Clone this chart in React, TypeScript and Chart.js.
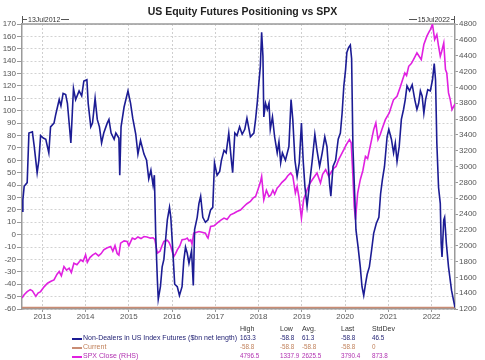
import React, { useEffect, useRef } from "react";
import { Chart, registerables } from "chart.js";

Chart.register(...registerables);

// ---- data (decimal-year dates) ----
const positioningDates = [
  2012.53, 2012.55, 2012.58, 2012.65, 2012.69, 2012.77, 2012.81, 2012.88, 2012.92, 2012.96,
  2013.02, 2013.08, 2013.15, 2013.19, 2013.27, 2013.31, 2013.39, 2013.43, 2013.48, 2013.54,
  2013.58, 2013.66, 2013.72, 2013.77, 2013.85, 2013.91, 2013.96, 2014.03, 2014.06, 2014.12,
  2014.16, 2014.22, 2014.27, 2014.32, 2014.37, 2014.42, 2014.5, 2014.54, 2014.59, 2014.66,
  2014.7, 2014.77, 2014.79, 2014.82, 2014.89, 2014.98, 2015.04, 2015.09, 2015.16, 2015.21,
  2015.27, 2015.35, 2015.41, 2015.46, 2015.51, 2015.56, 2015.59, 2015.62, 2015.66, 2015.68,
  2015.73, 2015.77, 2015.81, 2015.89, 2015.94, 2015.97, 2016.02, 2016.06, 2016.12, 2016.17,
  2016.23, 2016.27, 2016.31, 2016.35, 2016.39, 2016.45, 2016.49, 2016.52, 2016.58, 2016.62,
  2016.66, 2016.71, 2016.77, 2016.83, 2016.89, 2016.94, 2016.98, 2017.04, 2017.1, 2017.14,
  2017.2, 2017.25, 2017.31, 2017.37, 2017.4, 2017.45, 2017.5, 2017.56, 2017.62, 2017.68,
  2017.73, 2017.81, 2017.89, 2017.93, 2017.97, 2018.0, 2018.04, 2018.07, 2018.1, 2018.12,
  2018.16, 2018.2, 2018.24, 2018.27, 2018.32, 2018.37, 2018.43, 2018.47, 2018.51, 2018.55,
  2018.62, 2018.7, 2018.75, 2018.79, 2018.84, 2018.89, 2018.94, 2018.99, 2019.03, 2019.07,
  2019.12, 2019.17, 2019.24, 2019.3, 2019.35, 2019.41, 2019.47, 2019.53, 2019.58, 2019.64,
  2019.67, 2019.72, 2019.78, 2019.84, 2019.89, 2019.93, 2019.97, 2020.01, 2020.04, 2020.08,
  2020.12, 2020.15, 2020.18, 2020.22, 2020.25, 2020.3, 2020.35, 2020.39, 2020.43, 2020.47,
  2020.51, 2020.56, 2020.61, 2020.66, 2020.72, 2020.78, 2020.82, 2020.86, 2020.91, 2020.97,
  2021.01, 2021.07, 2021.12, 2021.16, 2021.2, 2021.25, 2021.3, 2021.35, 2021.39, 2021.43,
  2021.49, 2021.55, 2021.61, 2021.66, 2021.7, 2021.74, 2021.78, 2021.82, 2021.86, 2021.91,
  2021.97, 2022.02, 2022.06, 2022.09, 2022.12, 2022.16, 2022.2, 2022.22, 2022.24, 2022.28,
  2022.3, 2022.34, 2022.39, 2022.46, 2022.54,
];
const positioningValues = [
  19, 28, 39, 42, 82, 83, 72, 50, 60, 80,
  78, 77, 66, 87, 90, 97, 109, 104, 114, 113,
  106, 74, 118, 109, 116, 112, 124, 125, 106, 87,
  90, 110, 93, 87, 74, 82, 90, 93, 82, 77,
  82, 78, 48, 87, 103, 116, 106, 94, 81, 65,
  76, 65, 60, 45, 52, 40, 48, 1, -37, -52,
  -42, -26, -20, 12, 22, 14, -15, -40, -42, -49,
  -42, -21, -10, -15, -23, -13, -41, 4, 14, 25,
  31, 14, 10, 12, 20, 22, 58, 48, 51, 60,
  68, 66, 82, 60, 50, 82, 80, 87, 81, 85,
  94, 79, 82, 93, 107, 120, 136, 163.3, 144, 95,
  106, 101, 106, 85, 95, 79, 66, 75, 58, 66,
  60, 71, 109, 93, 60, 47, 58, 90, 60, 39,
  23, 39, 60, 81, 68, 55, 66, 79, 71, 41,
  31, 55, 60, 77, 82, 98, 120, 133, 147, 151,
  153, 142, 71, 33, 4, -10, -26, -42, -49, -40,
  -32, -26, -13, 1, 9, 14, 33, 44, 55, 79,
  85, 77, 66, 74, 59, 71, 93, 101, 109, 120,
  116, 121, 109, 101, 106, 116, 112, 98, 109, 117,
  116, 125, 138, 125, 74, 38, 25, -7, -18, 12,
  14, -7, -26, -45, -58.8,
];

const spxDates = [
  2012.53, 2012.58, 2012.65, 2012.72, 2012.77, 2012.85, 2012.9, 2012.96, 2013.04, 2013.12,
  2013.2, 2013.27, 2013.34, 2013.39, 2013.44, 2013.5, 2013.56, 2013.62, 2013.67, 2013.73,
  2013.8, 2013.89, 2013.94, 2014.0, 2014.04, 2014.1, 2014.16, 2014.23, 2014.3, 2014.36,
  2014.42, 2014.49, 2014.58, 2014.63, 2014.68, 2014.73, 2014.77, 2014.81, 2014.89, 2014.96,
  2015.0, 2015.08, 2015.14, 2015.21, 2015.28, 2015.35, 2015.42, 2015.5, 2015.56, 2015.6,
  2015.66, 2015.72, 2015.76, 2015.81, 2015.89, 2015.93, 2015.97, 2016.0, 2016.04, 2016.08,
  2016.12, 2016.18, 2016.23, 2016.3, 2016.35, 2016.39, 2016.43, 2016.46, 2016.5, 2016.57,
  2016.62, 2016.69, 2016.77, 2016.81, 2016.83, 2016.89, 2016.97, 2017.04, 2017.12, 2017.2,
  2017.27, 2017.35, 2017.43, 2017.5, 2017.58, 2017.66, 2017.73, 2017.81, 2017.87, 2017.93,
  2017.98, 2018.04, 2018.07, 2018.12, 2018.18, 2018.24, 2018.28, 2018.33, 2018.37, 2018.43,
  2018.47, 2018.54, 2018.62, 2018.67, 2018.74, 2018.79, 2018.85, 2018.89, 2018.93, 2018.99,
  2019.04, 2019.12, 2019.18, 2019.24, 2019.3, 2019.35, 2019.43, 2019.48, 2019.55, 2019.62,
  2019.68, 2019.74, 2019.79, 2019.85, 2019.91, 2019.97, 2020.03, 2020.1, 2020.14, 2020.18,
  2020.21, 2020.24, 2020.29, 2020.35, 2020.41, 2020.47, 2020.52, 2020.58, 2020.66, 2020.71,
  2020.76, 2020.81, 2020.85, 2020.93, 2021.02, 2021.08, 2021.12, 2021.2, 2021.28, 2021.33,
  2021.38, 2021.42, 2021.47, 2021.53, 2021.58, 2021.66, 2021.71, 2021.76, 2021.82, 2021.89,
  2021.94, 2021.97, 2022.02, 2022.07, 2022.12, 2022.16, 2022.2, 2022.23, 2022.28, 2022.32,
  2022.35, 2022.39, 2022.43, 2022.47, 2022.54,
];
const spxValues = [
  1338, 1380, 1420, 1445, 1430, 1360, 1400, 1420, 1480, 1526,
  1550, 1568, 1640, 1673, 1620, 1736, 1690, 1715, 1660, 1779,
  1760, 1821, 1800, 1884, 1790, 1850, 1880, 1905, 1870, 1900,
  1947, 1970, 1990, 1930, 2000, 1900, 1880, 2032, 2060, 2053,
  2000, 2095, 2080, 2110, 2090, 2116, 2110, 2095, 2100, 2080,
  1905, 1930, 1990, 2053, 2070, 2040, 1990, 1930, 1863, 1900,
  1947, 2000, 2074, 2080, 2095, 2060, 2074, 2020, 2158, 2170,
  2179, 2170, 2158, 2110, 2095, 2242, 2250, 2285, 2320, 2348,
  2330, 2390, 2410, 2432, 2450, 2495, 2530, 2558, 2600, 2622,
  2700, 2800, 2875, 2580, 2700, 2620, 2640, 2700, 2650, 2730,
  2750, 2800, 2840, 2880, 2918, 2880, 2665, 2750, 2620, 2348,
  2580, 2706, 2780, 2833, 2880, 2918, 2791, 2900, 2960, 2875,
  2930, 2981, 3000, 3086, 3150, 3213, 3280, 3339, 3300, 2875,
  2500, 2327, 2665, 2833, 2950, 3128, 3100, 3254, 3466, 3550,
  3339, 3400, 3466, 3592, 3676, 3780, 3845, 3888, 4013, 4100,
  4182, 4150, 4266, 4300, 4351, 4436, 4393, 4350, 4541, 4647,
  4700, 4730, 4796.5, 4604, 4667, 4519, 4393, 4450, 4561, 4224,
  4182, 3930, 3845, 3718, 3790.4,
];

const currentValue = -58.8;
const rangeStart = 2012.53;
const rangeEnd = 2022.54;
const yearTicks = [2013, 2014, 2015, 2016, 2017, 2018, 2019, 2020, 2021, 2022];
const leftTicks = [-60, -50, -40, -30, -20, -10, 0, 10, 20, 30, 40, 50, 60, 70, 80, 90, 100, 110, 120, 130, 140, 150, 160, 170];
const rightTicks = [1200, 1400, 1600, 1800, 2000, 2200, 2400, 2600, 2800, 3000, 3200, 3400, 3600, 3800, 4000, 4200, 4400, 4600, 4800];

const statHeaders = ["High", "Low", "Avg.", "Last", "StdDev"];
const seriesNames = ["Non-Dealers in US Index Futures ($bn net length)", "Current", "SPX Close (RHS)"];
const statsPositioning = ["163.3", "-58.8", "61.3", "-58.8", "46.5"];
const statsCurrent = ["-58.8", "-58.8", "-58.8", "-58.8", "0"];
const statsSpx = ["4796.5", "1337.9", "2625.5", "3790.4", "873.8"];

const BLUE = "#1c1c94";
const MAGENTA = "#e020e0";
const TAN = "#c98c74";
const FONT = "'Liberation Sans', Arial, sans-serif";

const borderPlugin = {
  id: "frameBorder",
  beforeDatasetsDraw(chart: any) {
    const { ctx, chartArea } = chart;
    ctx.save();
    ctx.strokeStyle = "#9a9a9a";
    ctx.lineWidth = 1.5;
    ctx.beginPath();
    ctx.moveTo(chartArea.left, chartArea.top);
    ctx.lineTo(chartArea.right, chartArea.top);
    ctx.stroke();
    ctx.restore();
  },
};

export default function App() {
  const canvasRef = useRef<HTMLCanvasElement | null>(null);

  useEffect(() => {
    const canvas = canvasRef.current;
    if (!canvas) return;
    const tickFont = { family: FONT, size: 8 };
    const chart = new Chart(canvas, {
      type: "line",
      data: {
        datasets: [
          {
            label: seriesNames[2],
            data: spxDates.map((d, i) => ({ x: d, y: spxValues[i] })),
            yAxisID: "y2",
            borderColor: MAGENTA,
            borderWidth: 1.6,
            pointRadius: 0,
            tension: 0,
            order: 3,
          },
          {
            label: seriesNames[1],
            data: [
              { x: rangeStart, y: currentValue },
              { x: rangeEnd, y: currentValue },
            ],
            yAxisID: "y",
            borderColor: TAN,
            borderWidth: 1.5,
            pointRadius: 0,
            order: 2,
          },
          {
            label: seriesNames[0],
            data: positioningDates.map((d, i) => ({ x: d, y: positioningValues[i] })),
            yAxisID: "y",
            borderColor: BLUE,
            borderWidth: 1.6,
            pointRadius: 0,
            tension: 0,
            order: 1,
          },
        ],
      },
      options: {
        responsive: false,
        animation: false,
        devicePixelRatio: 1,
        layout: { padding: { top: 24, left: 0, right: 0, bottom: 37 } },
        plugins: { legend: { display: false }, title: { display: false }, tooltip: { enabled: false } },
        scales: {
          x: {
            type: "linear",
            position: "bottom",
            min: rangeStart,
            max: rangeEnd,
            afterBuildTicks: (s: any) => {
              s.ticks = yearTicks.map((v) => ({ value: v }));
            },
            afterFit: (s: any) => {
              s.height = 14;
            },
            ticks: {
              font: tickFont,
              color: "#555",
              padding: 0,
              maxRotation: 0,
              autoSkip: false,
              callback: (v: any) => String(v),
            },
            grid: {
              color: "#cfcfcf",
              lineWidth: 1,
              tickLength: 3,
              tickColor: "#999",
              tickBorderDash: [],
            },
            border: { display: true, color: "#9a9a9a", width: 1.5, dash: [2, 2] },
          },
          y: {
            type: "linear",
            position: "left",
            min: -60,
            max: 170,
            afterBuildTicks: (s: any) => {
              s.ticks = leftTicks.map((v) => ({ value: v }));
            },
            afterFit: (s: any) => {
              s.width = 22;
            },
            ticks: { font: tickFont, color: "#555", padding: 1, autoSkip: false, callback: (v: any) => String(v) },
            grid: {
              color: "#d2d2d2",
              lineWidth: 1,
              tickLength: 5,
              tickColor: "#999",
              tickBorderDash: [],
            },
            border: { display: true, color: "#9a9a9a", width: 1.5, dash: [2, 2] },
          },
          y2: {
            type: "linear",
            position: "right",
            min: 1200,
            max: 4800,
            afterBuildTicks: (s: any) => {
              s.ticks = rightTicks.map((v) => ({ value: v }));
            },
            afterFit: (s: any) => {
              s.width = 30;
            },
            ticks: { font: tickFont, color: "#555", padding: 1, autoSkip: false, callback: (v: any) => String(v) },
            grid: {
              drawOnChartArea: false,
              tickLength: 3,
              tickColor: "#999",
              tickBorderDash: [],
            },
            border: { display: true, color: "#9a9a9a", width: 1.5 },
          },
        },
      },
      plugins: [borderPlugin],
    });
    return () => chart.destroy();
  }, []);

  const small: React.CSSProperties = { position: "absolute", fontFamily: FONT, fontSize: 7, lineHeight: "8px", whiteSpace: "nowrap" };
  const num: React.CSSProperties = { ...small, fontSize: 6.3 };
  const colX = [240, 280, 302, 341, 372];
  const rows = [
    { name: seriesNames[0], color: BLUE, textColor: "#1c1c70", stats: statsPositioning },
    { name: seriesNames[1], color: TAN, textColor: "#c0805a", stats: statsCurrent },
    { name: seriesNames[2], color: MAGENTA, textColor: "#b030b0", stats: statsSpx },
  ];

  return (
    <div style={{ position: "fixed", left: 0, top: 0, width: 485, height: 360, background: "#fff", overflow: "hidden" }}>
      <canvas ref={canvasRef} width={485} height={360} style={{ position: "absolute", left: 0, top: 0 }} />
      <div
        style={{
          position: "absolute",
          left: 0,
          top: 4,
          width: 485,
          textAlign: "center",
          fontFamily: FONT,
          fontWeight: "bold",
          fontSize: 10.5,
          lineHeight: "14px",
          color: "#222",
        }}
      >
        US Equity Futures Positioning vs SPX
      </div>
      <div style={{ position: "absolute", left: 22, top: 16, height: 7, borderLeft: "1px solid #555", display: "flex", alignItems: "center" }}>
        <span style={{ display: "inline-block", width: 4, height: 1, background: "#555" }} />
        <span style={{ fontFamily: FONT, fontSize: 7, color: "#333", padding: "0 1px", lineHeight: "7px" }}>13Jul2012</span>
        <span style={{ display: "inline-block", width: 8, height: 1, background: "#555" }} />
      </div>
      <div style={{ position: "absolute", right: 485 - 455, top: 16, height: 7, borderRight: "1px solid #555", display: "flex", alignItems: "center" }}>
        <span style={{ display: "inline-block", width: 8, height: 1, background: "#555" }} />
        <span style={{ fontFamily: FONT, fontSize: 7, color: "#333", padding: "0 1px", lineHeight: "7px" }}>15Jul2022</span>
        <span style={{ display: "inline-block", width: 3, height: 1, background: "#555" }} />
      </div>
      {statHeaders.map((h, i) => (
        <div key={h} style={{ ...num, fontSize: 7, left: colX[i], top: 325, color: "#333" }}>
          {h}
        </div>
      ))}
      {rows.map((r, ri) => (
        <React.Fragment key={r.name}>
          <div style={{ position: "absolute", left: 72, top: 338 + ri * 9, width: 10, height: 1.5, background: r.color }} />
          <div style={{ ...small, left: 83, top: 334 + ri * 9, color: r.textColor }}>{r.name}</div>
          {r.stats.map((s, si) => (
            <div key={si} style={{ ...num, left: colX[si], top: 334 + ri * 9, color: r.textColor }}>
              {s}
            </div>
          ))}
        </React.Fragment>
      ))}
    </div>
  );
}
